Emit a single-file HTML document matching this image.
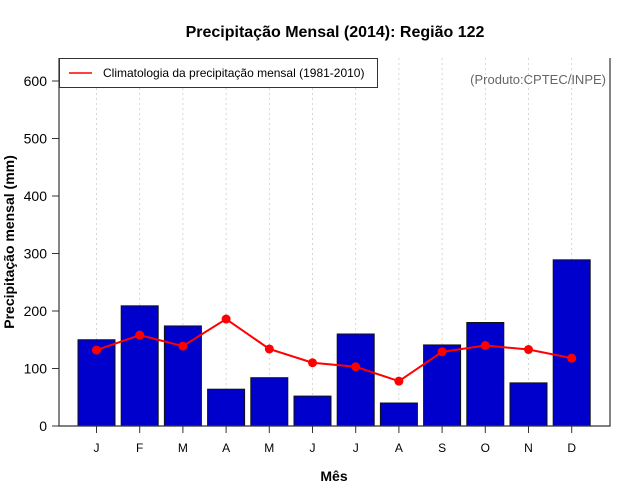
<!DOCTYPE html>
<html><head><meta charset="utf-8">
<style>body{margin:0;background:#fff}svg{display:block;font-family:"Liberation Sans",sans-serif}</style>
</head><body>
<svg id="c" width="640" height="500"></svg>
<script>
const months=['J','F','M','A','M','J','J','A','S','O','N','D'];
const observed=[150,209,174,64,84,52,160,40,141,180,75,289];
const climatology=[132,158,139,186,134,110,103,78,129,140,133,118];
const yTicks=[0,100,200,300,400,500,600];
const NS='http://www.w3.org/2000/svg';
const svg=document.getElementById('c');
const L=59,R=610,T=58,B=426;
const x=i=>96.5+i*43.2;
const y=v=>426-v*0.575;
function mk(t,a,p){const e=document.createElementNS(NS,t);for(const k in a)e.setAttribute(k,a[k]);(p||svg).appendChild(e);return e;}
months.forEach((m,i)=>{const g=mk('line',{x1:x(i),x2:x(i),y1:T,y2:B,stroke:'#ccc','stroke-dasharray':'2,3','stroke-width':0.8});

});
observed.forEach((v,i)=>{const r=mk('rect',{x:x(i)-18.5,y:y(v),width:37,height:B-y(v),fill:'#0000cd',stroke:'#111','stroke-width':1});

});
const pl=mk('polyline',{points:climatology.map((v,i)=>x(i)+','+y(v)).join(' '),fill:'none',stroke:'#ff0000','stroke-width':2});


climatology.forEach((v,i)=>{const c=mk('circle',{cx:x(i),cy:y(v),r:4.5,fill:'#ff0000'});

});
const bx=mk('path',{d:`M${L},${T} V${B} H${R} V${T}`,fill:'none',stroke:'#333','stroke-width':1.2});


yTicks.forEach(v=>{mk('line',{x1:L-7,x2:L,y1:y(v),y2:y(v),stroke:'#333'});
const t=mk('text',{x:L-12,y:y(v)+5,'text-anchor':'end','font-size':14});t.textContent=v;

});
months.forEach((m,i)=>{mk('line',{x1:x(i),x2:x(i),y1:B,y2:B+7,stroke:'#333'});
const t=mk('text',{x:x(i),y:452,'text-anchor':'middle','font-size':12});t.textContent=m;

});
</script>
<svg width="640" height="500" style="position:absolute;left:0;top:0;font-family:'Liberation Sans',sans-serif">
<text x="335" y="37" text-anchor="middle" font-size="16" font-weight="bold">Precipitação Mensal (2014): Região 122</text>
<text x="334" y="481" text-anchor="middle" font-size="14" font-weight="bold">Mês</text>
<text transform="translate(14,242) rotate(-90)" text-anchor="middle" font-size="14" font-weight="bold">Precipitação mensal (mm)</text>
<text x="606" y="84" text-anchor="end" font-size="13" fill="#666">(Produto:CPTEC/INPE)</text>
<g>
<rect x="59.5" y="58.5" width="318" height="29" fill="#fff" stroke="#333"/>
<line x1="69" x2="92" y1="73" y2="73" stroke="#ff0000" stroke-width="1.5"/>
<text x="103" y="77" font-size="12">Climatologia da precipitação mensal (1981-2010)</text>
</g>
</svg>
</body></html>
